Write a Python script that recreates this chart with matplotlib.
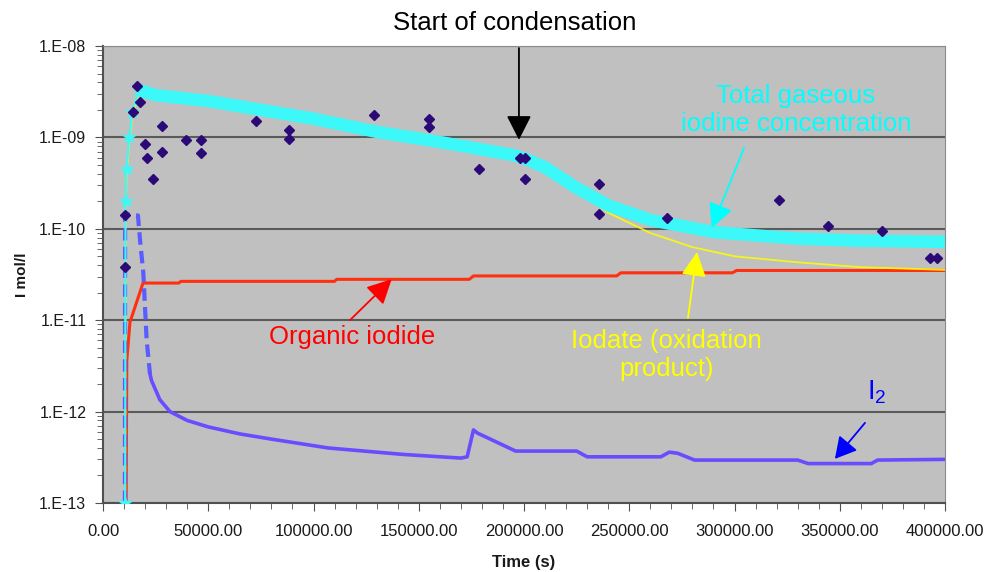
import math
import matplotlib
matplotlib.use("Agg")
import matplotlib.pyplot as plt
from matplotlib.ticker import MultipleLocator, LogLocator, FuncFormatter, NullFormatter

plt.rcParams['font.family'] = ['Liberation Sans', 'DejaVu Sans']
plt.rcParams['mathtext.fontset'] = 'custom'
plt.rcParams['mathtext.rm'] = 'Liberation Sans'

# total gaseous iodine (model)
t_total = [10500, 10700, 11200, 12500, 14000, 17000, 25000, 50000, 100000, 130000, 160000,
           195000, 200000, 210000, 225000, 240000, 260000, 290000, 330000, 360000, 400000]
c_total = [1e-13, 2e-10, 4.5e-10, 1e-9, 1.9e-9, 3.3e-9, 2.9e-9, 2.5e-9, 1.6e-9, 1.15e-9, 8.9e-10,
           6.4e-10, 5.9e-10, 4.7e-10, 2.8e-10, 1.8e-10, 1.25e-10, 9.2e-11, 7.8e-11, 7.4e-11, 7.2e-11]

# iodate (oxidation product)
t_iodate = [10600, 10800, 11300, 12500, 14000, 17000, 25000, 50000, 100000, 150000, 195000,
            210000, 225000, 240000, 260000, 280000, 300000, 330000, 360000, 400000]
c_iodate = [1e-13, 1.8e-10, 4e-10, 9e-10, 1.7e-9, 3.1e-9, 2.8e-9, 2.4e-9, 1.55e-9, 9.5e-10, 6.2e-10,
            4.3e-10, 2.6e-10, 1.5e-10, 9e-11, 6.3e-11, 5e-11, 4.3e-11, 3.8e-11, 3.55e-11]

# organic iodide
t_org = [11000, 11300, 12800, 19000, 36000, 37000, 110000, 111000, 174000, 176000,
         244000, 246000, 299000, 301000, 400000]
c_org = [1e-13, 3.6e-12, 9.5e-12, 2.55e-11, 2.55e-11, 2.66e-11, 2.66e-11, 2.8e-11, 2.8e-11, 3.05e-11,
         3.05e-11, 3.3e-11, 3.3e-11, 3.5e-11, 3.5e-11]

# I2, early part (dashed) and later part
t_i2a = [10400, 10500, 16600, 17600, 19150, 19950, 20750, 22300]
c_i2a = [1e-13, 1.45e-10, 1.4e-10, 7.5e-11, 3.3e-11, 1.4e-11, 6e-12, 2.6e-12]
t_i2 = [22300, 23000, 27000, 31800, 40000, 50000, 65000, 80000, 107000, 142500, 170000, 173000,
        176000, 178000, 184000, 190000, 196000, 225000, 230000, 265000, 269000, 273000, 281000,
        330000, 335000, 365000, 368000, 400000]
c_i2 = [2.6e-12, 2.2e-12, 1.35e-12, 1e-12, 8e-13, 6.8e-13, 5.7e-13, 5e-13, 4e-13, 3.4e-13, 3.1e-13, 3.2e-13,
        6.3e-13, 5.8e-13, 5e-13, 4.3e-13, 3.7e-13, 3.7e-13, 3.2e-13, 3.2e-13, 3.6e-13, 3.5e-13, 2.95e-13,
        2.95e-13, 2.7e-13, 2.7e-13, 2.95e-13, 3.0e-13]

# measurements
t_meas = [10450, 10450, 14250, 16200, 17600, 19950, 21050, 23900, 27850, 27850, 39400, 46400, 46400,
          72500, 88400, 88400, 128700, 155000, 155000, 178600, 198000, 200500, 200500, 235600, 235600,
          267900, 321000, 344400, 370000, 392900, 396000]
c_meas = [1.42e-10, 3.8e-11, 1.9e-9, 3.65e-9, 2.45e-9, 8.5e-10, 5.9e-10, 3.5e-10, 1.33e-9, 6.9e-10,
          9.4e-10, 9.4e-10, 6.8e-10, 1.5e-9, 1.2e-9, 9.6e-10, 1.76e-9, 1.6e-9, 1.3e-9, 4.5e-10,
          6.0e-10, 6.0e-10, 3.5e-10, 3.1e-10, 1.45e-10, 1.3e-10, 2.07e-10, 1.07e-10, 9.5e-11, 4.8e-11, 4.8e-11]

fig = plt.figure(figsize=(9.88, 5.72), dpi=100)
ax = fig.add_axes([103/988, 69/572, 842/988, 457/572])
ax.set_facecolor('#c0c0c0')
ax.set_yscale('log')
ax.set_xlim(0, 400000)
ax.set_ylim(1e-13, 1e-8)

cyan = '#3cf8f8'
ax.plot(t_org, c_org, color='#ff3010', lw=2.2, zorder=3)
ax.plot(t_iodate, c_iodate, color='#ffff00', lw=1.3, alpha=0.85, zorder=4)
ax.plot(t_total[:7], c_total[:7], color=cyan, lw=1.5, marker='*', ms=9, zorder=5)
ax.plot(t_total[5:], c_total[5:], color=cyan, lw=9, solid_capstyle='butt', zorder=5)
ax.plot(t_i2a, c_i2a, color='#5a5cff', lw=3, ls=(0, (3, 1.5)), zorder=4)
ax.plot(t_i2, c_i2, color='#6a4cff', lw=2.6, zorder=4)
ax.plot(t_meas, c_meas, ls='none', marker='D', ms=5.4, color='#2b0a78', zorder=6)

ax.yaxis.grid(True, which='major', color='#5a5a5a', lw=1.5)
ax.set_axisbelow(True)
for s in ['top', 'right']:
    ax.spines[s].set_color('#8a8a8a')
for s in ['left', 'bottom']:
    ax.spines[s].set_color('#505050')
    ax.spines[s].set_linewidth(1.5)

ax.xaxis.set_major_locator(MultipleLocator(50000))
ax.xaxis.set_minor_locator(MultipleLocator(10000))
ax.xaxis.set_major_formatter(FuncFormatter(lambda v, p: '%.2f' % v))
ax.yaxis.set_major_locator(LogLocator(base=10, numticks=10))
ax.yaxis.set_minor_locator(LogLocator(base=10, subs=range(2, 10), numticks=20))
ax.yaxis.set_minor_formatter(NullFormatter())
ax.yaxis.set_major_formatter(FuncFormatter(lambda v, p: '1.E%03d' % round(math.log10(v))))
ax.tick_params(axis='both', which='major', length=6, color='#505050', labelcolor='#1a1a1a')
ax.tick_params(axis='both', which='minor', length=4, color='#505050')
ax.tick_params(axis='x', labelsize=12, pad=9)
ax.tick_params(axis='y', labelsize=11.5, pad=6)

ax.set_xlabel('Time (s)', fontsize=12, fontweight='bold', labelpad=12, color='#1a1a1a')
ax.set_ylabel('I mol/l', fontsize=11, fontweight='bold', labelpad=7, color='#1a1a1a')


def arrow(tip, start, color, hl=0.75, hw=0.38, lw=1.3):
    ax.annotate('', xy=tip, xytext=start, annotation_clip=False,
                arrowprops=dict(arrowstyle='-|>,head_length=%g,head_width=%g' % (hl, hw),
                                mutation_scale=20, color=color, lw=lw, shrinkA=0, shrinkB=0),
                zorder=7)


arrow((197600, 9.4e-10), (197600, 9.5e-9), 'black')
arrow((289200, 1.02e-10), (304500, 7.66e-10), '#00ffff')
arrow((137150, 2.81e-11), (117300, 1.0e-11), '#ff0000')
arrow((282200, 5.58e-11), (277900, 1.06e-11), '#ffff00')
arrow((347700, 3.04e-13), (362000, 7.53e-13), '#0000ff', hl=0.65, hw=0.36)

ax.text(195700, 1.79e-8, 'Start of condensation', fontsize=18.5, ha='center', va='center',
        color='black', clip_on=False)
ax.text(329200, 2.0e-9, 'Total gaseous\niodine concentration', fontsize=18.5, ha='center',
        va='center', color='#00ffff', linespacing=1.22)
ax.text(118500, 6.56e-12, 'Organic iodide', fontsize=18.5, ha='center', va='center', color='#ff0000')
ax.text(267500, 4.2e-12, 'Iodate (oxidation\nproduct)', fontsize=18.5, ha='center', va='center',
        color='#ffff00', linespacing=1.2)
ax.text(367700, 1.64e-12, r'$\mathregular{I_2}$', fontsize=19.5, ha='center', va='center', color='#0000ff')

fig.savefig('out.png', dpi=100)
